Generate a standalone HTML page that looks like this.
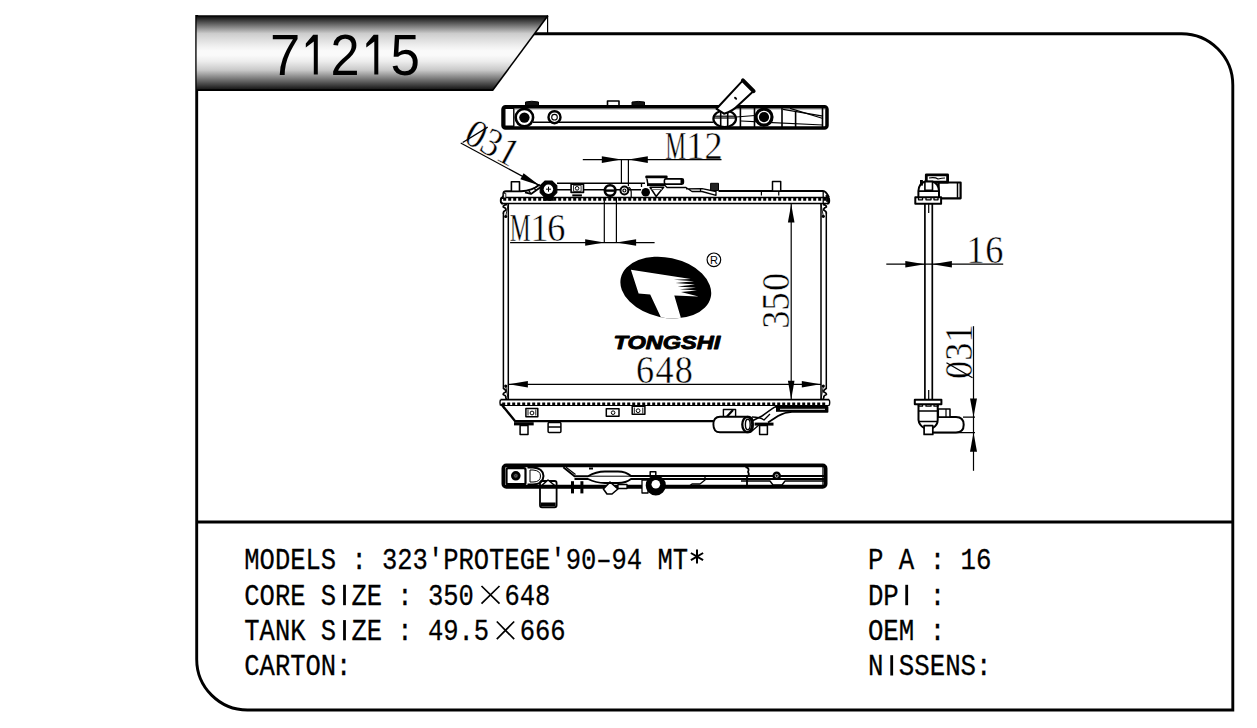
<!DOCTYPE html>
<html><head><meta charset="utf-8">
<style>
html,body{margin:0;padding:0;background:#fff;}
body{width:1257px;height:728px;overflow:hidden;position:relative;}
svg{position:absolute;left:0;top:0;display:block;}
.mono{font-family:"Liberation Mono",monospace;font-size:25.75px;fill:#000;}
.mono text{stroke:#000;stroke-width:0.25px;}
.serif{font-family:"Liberation Serif",serif;fill:#000;}
.serif text{stroke:#fff;stroke-width:0.45px;}
text{stroke:none;}
</style></head>
<body>
<svg width="1257" height="728" viewBox="0 0 1257 728">
<defs>
<linearGradient id="hg" x1="0" y1="0" x2="0" y2="1">
<stop offset="0" stop-color="#000"/>
<stop offset="0.012" stop-color="#101010"/>
<stop offset="0.24" stop-color="#cccccc"/>
<stop offset="0.32" stop-color="#dedede"/>
<stop offset="0.41" stop-color="#f0f0f0"/>
<stop offset="0.47" stop-color="#fafafa"/>
<stop offset="0.53" stop-color="#fafafa"/>
<stop offset="0.61" stop-color="#ededed"/>
<stop offset="0.68" stop-color="#d8d8d8"/>
<stop offset="0.73" stop-color="#c8c8c8"/>
<stop offset="0.985" stop-color="#181818"/>
<stop offset="1" stop-color="#000"/>
</linearGradient>
</defs>
<!-- frame -->
<g fill="none" stroke="#000" stroke-width="2.9">
<path d="M533,33.7 H1181.5 A51.3,51.3 0 0 1 1232.8,85 V710 H247.5 A50.8,50.8 0 0 1 196.7,659.2 V15"/>
<line x1="196.7" y1="522" x2="1232.8" y2="522"/>
</g>
<!-- header -->
<polygon points="196.6,15.6 548,15.6 492.5,90.4 196.6,90.4" fill="url(#hg)"/>
<line x1="492.5" y1="90.4" x2="548" y2="15.6" stroke="#000" stroke-width="1.6"/>
<line x1="196" y1="90.2" x2="493" y2="90.2" stroke="#000" stroke-width="1.8"/>
<line x1="196" y1="16" x2="548" y2="16" stroke="#000" stroke-width="1.2"/>
<line x1="547.6" y1="16" x2="547.6" y2="33" stroke="#000" stroke-width="1.2"/>
<g font-family="Liberation Sans" font-size="54.5" fill="#000">
<text transform="translate(270,74.5) scale(1,1.056)">7</text>
<text transform="translate(330.4,74.5) scale(0.96,1.056)">2</text>
<text transform="translate(390.6,74.5) scale(0.97,1.056)">5</text>
</g>
<polygon fill="#000" points="317.8,34.8 317.8,74.5 313.8,74.5 313.8,41.5 305.8,47.6 305.8,43.4 313.2,34.8"/>
<polygon fill="#000" points="378.3,34.8 378.3,74.5 374.3,74.5 374.3,41.5 366.3,47.6 366.3,43.4 373.7,34.8"/>

<!-- info text -->
<g class="mono">
<text font-size="25.5" transform="translate(244.3,569.3) scale(1,1.17)">MODELS : 323'PROTEGE'90–94 MT</text>
<text font-size="25.5" transform="translate(244.3,605) scale(1,1.17)">CORE S&#160;ZE : 350&#160;&#160;648</text>
<text font-size="25.5" transform="translate(244.3,640) scale(1,1.17)">TANK S&#160;ZE : 49.5&#160;&#160;666</text>
<text font-size="25.5" transform="translate(244.3,675.3) scale(1,1.17)">CARTON:</text>
<text transform="translate(867.9,569.3) scale(1,1.17)">P A : 16</text>
<text transform="translate(867.9,605) scale(1,1.17)">DP&#160; :</text>
<text transform="translate(867.9,640) scale(1,1.17)">OEM :</text>
<text transform="translate(867.9,675.3) scale(1,1.17)">N&#160;SSENS:</text>
</g>

<g stroke="#000" stroke-width="1.7" fill="none">
<path d="M481.5,586 L499.5,603.6 M499.5,586 L481.5,603.6"/>
<path d="M496.8,621.5 L514.2,639.2 M514.2,621.5 L496.8,639.2"/>
</g>
<path d="M697,549.5 V563.6 M690.9,553 L703.1,560.1 M703.1,553 L690.9,560.1" stroke="#000" stroke-width="2" fill="none"/>
<g fill="#000">
<rect x="343.1" y="584.8" width="2.8" height="20.4"/>
<rect x="343.1" y="620.1" width="2.8" height="20.2"/>
<rect x="905.3" y="584.8" width="2.8" height="20.4"/>
<rect x="890.3" y="655.2" width="2.8" height="20.3"/>
</g>
<!-- DRAWING -->

<g id="drawing" fill="none" stroke="#000" stroke-linejoin="round">

<!-- ===== DIMENSION TEXT ===== -->
<g class="serif" font-size="39">
<text transform="translate(665.2,158.70) scale(0.6,1.03)">M</text>
<text transform="translate(686.20,158.70) scale(0.93,1.03)">1</text>
<text transform="translate(704.60,158.70) scale(0.93,1.03)">2</text>
<text transform="translate(509.8,241.30) scale(0.6,1.03)">M</text>
<text transform="translate(530.40,241.30) scale(0.93,1.03)">1</text>
<text transform="translate(547.30,241.30) scale(0.93,1.03)">6</text>
<text transform="translate(636.10,382.70) scale(0.93,1.03)">6</text>
<text transform="translate(655.50,382.70) scale(0.93,1.03)">4</text>
<text transform="translate(674.80,382.70) scale(0.93,1.03)">8</text>
<text transform="translate(966.40,263.00) scale(0.93,1.03)">1</text>
<text transform="translate(985.30,263.00) scale(0.93,1.03)">6</text>
<text transform="translate(788.8,328.7) rotate(-90) scale(0.93,1.03)">3</text>
<text transform="translate(788.8,310.4) rotate(-90) scale(0.93,1.03)">5</text>
<text transform="translate(788.8,290.9) rotate(-90) scale(0.93,1.03)">0</text>
<text transform="translate(971.6,379.1) rotate(-90) scale(0.93,1.03)">0</text>
<text transform="translate(971.6,360.7) rotate(-90) scale(0.93,1.03)">3</text>
<text transform="translate(971.6,342.6) rotate(-90) scale(0.93,1.03)">1</text>
<line x1="972.5" y1="377.7" x2="946.5" y2="362.8" stroke="#000" stroke-width="1.3"/>
<g transform="translate(460.7,143.05) rotate(28.2)">
<text transform="translate(0.6,-2) scale(0.93,1.03)">0</text>
<text transform="translate(18.3,-2) scale(0.93,1.03)">3</text>
<text transform="translate(37.3,-2) scale(0.93,1.03)">1</text>
<line x1="1.5" y1="-1.4" x2="16.3" y2="-26.8" stroke="#000" stroke-width="1.3"/>
</g>
</g>

<!-- ===== TOP TANK VIEW ===== -->
<path d="M525.5,107 V102 Q531.5,100.5 538.5,102 V107 Z" fill="#111" stroke-width="1"/>
<rect x="607.5" y="101" width="11.5" height="6" stroke-width="1.6" fill="#fff"/>
<path d="M632,107 V102 Q638,100.8 644.5,102 V107 Z" fill="#111" stroke-width="1"/>
<rect x="503" y="106.7" width="324" height="21.3" rx="2.5" stroke-width="3.5"/>
<rect x="504.8" y="108.4" width="9" height="17.9" stroke-width="1.4"/>
<line x1="533" y1="122.2" x2="713.5" y2="122.2" stroke-width="1.6"/>
<line x1="514" y1="108.9" x2="826" y2="108.9" stroke-width="0.8" stroke="#555"/>
<circle cx="524.4" cy="117.6" r="8.7" stroke-width="2.6" fill="#fff"/>
<circle cx="524.4" cy="117.6" r="5.2" fill="#000" stroke="none"/>
<circle cx="554.5" cy="117.2" r="6" stroke-width="2.4" fill="#fff"/>
<circle cx="554.5" cy="117.2" r="2.8" stroke-width="1.1"/>
<g stroke-width="1.6">
<line x1="720.7" y1="110.5" x2="720.7" y2="127"/>
<line x1="727.7" y1="110.5" x2="727.7" y2="127"/>
<line x1="740.4" y1="108" x2="740.4" y2="127"/>
<line x1="754.5" y1="108" x2="754.5" y2="127"/>
<line x1="782" y1="108" x2="782" y2="127"/>
<line x1="795.6" y1="111.5" x2="795.6" y2="127"/>
<line x1="822.5" y1="108" x2="822.5" y2="127"/>
</g>
<g stroke-width="1.2">
<line x1="713.5" y1="116.2" x2="736" y2="116.2"/>
<line x1="713.5" y1="118" x2="736" y2="118"/>
<line x1="736" y1="117" x2="755" y2="115.5"/>
<line x1="741" y1="121" x2="823" y2="125"/>
<line x1="783" y1="109.4" x2="823" y2="116.2"/>
<line x1="790" y1="108.4" x2="823" y2="118.5"/>
</g>
<ellipse cx="724.7" cy="118.7" rx="11.3" ry="8.3" stroke-width="2.2"/>
<circle cx="764" cy="117.1" r="8" stroke-width="3.2" fill="#fff"/>
<circle cx="764" cy="117.1" r="5.1" fill="#000" stroke="none"/>
<path d="M716.5,108.8 L742.9,80.4 L753.6,91.1 L738,105.5 Q733,111 724,113.7 Z" fill="#fff" stroke-width="2"/>
<line x1="742.9" y1="80.4" x2="753.6" y2="91.1" stroke-width="4" stroke-linecap="round"/>
<ellipse cx="735.6" cy="98.2" rx="1.8" ry="1.1" transform="rotate(45 735.6 98.2)" fill="#000" stroke="none"/>

<!-- ===== FRONT VIEW ===== -->
<!-- core channels -->
<g stroke-width="1.5">
<line x1="503.4" y1="213" x2="503.4" y2="389"/>
<line x1="508.3" y1="203.5" x2="508.3" y2="399.7"/>
<line x1="821" y1="203.5" x2="821" y2="399.7"/>
<line x1="826.3" y1="213" x2="826.3" y2="389"/>
</g>
<g stroke-width="1.7">
<path d="M507,204.3 Q503,205 503.2,207 Q506.5,208.3 505.8,210.2 Q503,211 503.4,213.5"/>
<path d="M503.4,388.5 Q506.5,390 505.8,392 Q503,393 503.2,394.5 Q506.5,396 505.8,397.5 L506.5,399.7"/>
<path d="M822.8,204.3 Q826.6,205 826.4,207 Q823.2,208.3 823.8,210.2 Q826.6,211 826.3,213.5"/>
<path d="M826.3,388.5 Q823.2,390 823.8,392 Q826.6,393 826.4,394.5 Q823.2,396 823.8,397.5 L823,399.7"/>
</g>
<path d="M505.7,216.5 L508.3,204 M505.7,386 L508.3,399.5 M823.3,216.3 L821,204 M823.3,386 L821,399.5" stroke-width="0.9"/>
<circle cx="505.7" cy="216.5" r="1.6" fill="#000" stroke="none"/>
<circle cx="505.7" cy="386.1" r="1.6" fill="#000" stroke="none"/>
<circle cx="823.3" cy="216.3" r="1.6" fill="#000" stroke="none"/>
<circle cx="823.3" cy="386.1" r="1.6" fill="#000" stroke="none"/>
<!-- top header strip -->
<path d="M501,203.5 H829.2 M501.5,197.5 H828.8" stroke-width="1.7"/>
<path d="M503,197.5 Q500.8,197.5 500.8,200 V201.3 Q500.8,203.5 503,203.5 M827,197.5 Q829.2,197.5 829.2,200 V201.3 Q829.2,203.5 827,203.5" stroke-width="1.9"/>
<path d="M503.2,197.5h3.0v3.3h-3.0zM508.2,197.5h3.0v3.3h-3.0zM513.2,197.5h3.0v3.3h-3.0zM518.2,197.5h3.0v3.3h-3.0zM523.2,197.5h3.0v3.3h-3.0zM528.2,197.5h3.0v3.3h-3.0zM533.2,197.5h3.0v3.3h-3.0zM538.2,197.5h3.0v3.3h-3.0zM543.2,197.5h3.0v3.3h-3.0zM548.2,197.5h3.0v3.3h-3.0zM553.2,197.5h3.0v3.3h-3.0zM558.2,197.5h3.0v3.3h-3.0zM563.2,197.5h3.0v3.3h-3.0zM568.2,197.5h3.0v3.3h-3.0zM573.2,197.5h3.0v3.3h-3.0zM578.2,197.5h3.0v3.3h-3.0zM583.2,197.5h3.0v3.3h-3.0zM588.2,197.5h3.0v3.3h-3.0zM593.2,197.5h3.0v3.3h-3.0zM598.2,197.5h3.0v3.3h-3.0zM603.2,197.5h3.0v3.3h-3.0zM608.2,197.5h3.0v3.3h-3.0zM613.2,197.5h3.0v3.3h-3.0zM618.2,197.5h3.0v3.3h-3.0zM623.2,197.5h3.0v3.3h-3.0zM628.2,197.5h3.0v3.3h-3.0zM633.2,197.5h3.0v3.3h-3.0zM638.2,197.5h3.0v3.3h-3.0zM643.2,197.5h3.0v3.3h-3.0zM648.2,197.5h3.0v3.3h-3.0zM653.2,197.5h3.0v3.3h-3.0zM658.2,197.5h3.0v3.3h-3.0zM663.2,197.5h3.0v3.3h-3.0zM668.2,197.5h3.0v3.3h-3.0zM673.2,197.5h3.0v3.3h-3.0zM678.2,197.5h3.0v3.3h-3.0zM683.2,197.5h3.0v3.3h-3.0zM688.2,197.5h3.0v3.3h-3.0zM693.2,197.5h3.0v3.3h-3.0zM698.2,197.5h3.0v3.3h-3.0zM703.2,197.5h3.0v3.3h-3.0zM708.2,197.5h3.0v3.3h-3.0zM713.2,197.5h3.0v3.3h-3.0zM718.2,197.5h3.0v3.3h-3.0zM723.2,197.5h3.0v3.3h-3.0zM728.2,197.5h3.0v3.3h-3.0zM733.2,197.5h3.0v3.3h-3.0zM738.2,197.5h3.0v3.3h-3.0zM743.2,197.5h3.0v3.3h-3.0zM748.2,197.5h3.0v3.3h-3.0zM753.2,197.5h3.0v3.3h-3.0zM758.2,197.5h3.0v3.3h-3.0zM763.2,197.5h3.0v3.3h-3.0zM768.2,197.5h3.0v3.3h-3.0zM773.2,197.5h3.0v3.3h-3.0zM778.2,197.5h3.0v3.3h-3.0zM783.2,197.5h3.0v3.3h-3.0zM788.2,197.5h3.0v3.3h-3.0zM793.2,197.5h3.0v3.3h-3.0zM798.2,197.5h3.0v3.3h-3.0zM803.2,197.5h3.0v3.3h-3.0zM808.2,197.5h3.0v3.3h-3.0zM813.2,197.5h3.0v3.3h-3.0zM818.2,197.5h3.0v3.3h-3.0zM823.2,197.5h3.0v3.3h-3.0z" fill="#000" stroke="none"/>
<!-- top tank front -->
<path d="M503.4,197.5 V193.5 Q503.6,191.2 506,191.2 H521 Q532,191 539.7,184.5" stroke-width="2"/>
<path d="M501.2,198.5 L503.4,195.2 V198.5 Z" fill="#000" stroke-width="1"/>
<rect x="503.6" y="193.4" width="2.2" height="4.5" fill="#fff" stroke-width="0.8"/>
<rect x="511.4" y="181.7" width="8.1" height="9.6" stroke-width="1.6" fill="#fff"/>
<path d="M525,192.3 Q528,193.2 531,193.9 L540.5,187.3" stroke-width="1.8"/>
<path d="M531,193.9 L528.8,190.6 M536,190.6 L533.8,187.6" stroke-width="1.3"/>
<path d="M557,183.3 H645 M557,189.8 H641" stroke-width="1.5"/>
<rect x="543.4" y="196.3" width="10.1" height="4.5" fill="#000" stroke="none"/>
<polygon points="545.2,181 551.8,181 556.8,185.8 556.8,192.6 551.8,197.5 545.2,197.5 540.2,192.6 540.2,185.8" fill="#000" stroke-width="1.2"/>
<circle cx="548.4" cy="189.2" r="4.7" fill="#fff" stroke="none"/>
<path d="M546,189.2 h5 M548.5,186.7 v5" stroke-width="1"/>
<rect x="571.1" y="184.1" width="12.4" height="8.3" stroke-width="1.6" fill="#fff"/>
<rect x="573.5" y="185.3" width="7.6" height="6" stroke-width="0.8"/>
<circle cx="577.1" cy="188.3" r="1.8" stroke-width="1"/>
<rect x="572.3" y="194.4" width="9.6" height="2" fill="#000" stroke="none"/>
<circle cx="610.1" cy="190.5" r="5.3" stroke-width="2.6" fill="#fff"/>
<rect x="606" y="189.4" width="8.2" height="2.4" fill="#000" stroke="none"/>
<circle cx="624.4" cy="190.5" r="3.9" stroke-width="2" fill="#fff"/>
<circle cx="624.4" cy="190.5" r="1.5" stroke-width="1.2"/>
<path d="M628.5,187 Q631.2,188.5 631.2,192 V197" stroke-width="1.2"/>
<circle cx="645.7" cy="192.3" r="4.3" fill="#000" stroke="none"/>
<!-- filler -->
<path d="M641.5,187 V183.3" stroke-width="1.3"/>
<rect x="645.3" y="175.6" width="22.3" height="3" fill="#000" stroke="none" rx="1"/>
<path d="M646.9,178.5 L647.8,184 H665 L666,178.5" stroke-width="1.5" fill="#fff"/>
<path d="M647,185 H665" stroke-width="2.2"/>
<path d="M650.1,187.3 H663.6 L656.1,196.4 Z" stroke-width="1.6" fill="#fff"/>
<line x1="651.5" y1="189.5" x2="662" y2="189.5" stroke="#777" stroke-width="1.1"/>
<rect x="664.4" y="178.9" width="19" height="5.2" rx="1.5" stroke-width="1.6" fill="#fff"/>
<rect x="680.5" y="179" width="3" height="5" fill="#000" stroke="none"/>
<path d="M664,184.5 L667,187.5 H686 L692,191.5 H702 L716,195.3 V191 M686,188.9 L702,188.6 L716,191.5 M700.5,188.6 V192" stroke-width="1.3"/>
<rect x="710.6" y="183.3" width="7.9" height="7.2" fill="#222" stroke="#000" stroke-width="1"/>
<path d="M718.5,191 H823 Q826,191 829,197.5" stroke-width="1.8"/>
<path d="M823.2,191.5 V203" stroke-width="1.3"/>
<path d="M826,195 L829,198.5 V201.5 L826.5,201.5 Z" fill="#000" stroke-width="0.8"/>
<rect x="772.5" y="181.5" width="8.2" height="9.5" stroke-width="1.5" fill="#fff"/>
<path d="M761.4,191.6 V195.5 M778.75,191.6 V195.5" stroke-width="1.2"/>
<!-- bottom header strip -->
<path d="M500.5,399.7 H829.2" stroke-width="1.7"/>
<path d="M500.5,405.5 H829.2" stroke-width="1.2"/>
<path d="M500.5,399.7 Q499.5,402.5 500.5,405.5 M829.2,399.7 Q830.2,402.5 829.2,405.5" stroke-width="1.4"/>
<path d="M502.2,402.6h3.0v2.9h-3.0zM507.2,402.6h3.0v2.9h-3.0zM512.2,402.6h3.0v2.9h-3.0zM517.2,402.6h3.0v2.9h-3.0zM522.2,402.6h3.0v2.9h-3.0zM527.2,402.6h3.0v2.9h-3.0zM532.2,402.6h3.0v2.9h-3.0zM537.2,402.6h3.0v2.9h-3.0zM542.2,402.6h3.0v2.9h-3.0zM547.2,402.6h3.0v2.9h-3.0zM552.2,402.6h3.0v2.9h-3.0zM557.2,402.6h3.0v2.9h-3.0zM562.2,402.6h3.0v2.9h-3.0zM567.2,402.6h3.0v2.9h-3.0zM572.2,402.6h3.0v2.9h-3.0zM577.2,402.6h3.0v2.9h-3.0zM582.2,402.6h3.0v2.9h-3.0zM587.2,402.6h3.0v2.9h-3.0zM592.2,402.6h3.0v2.9h-3.0zM597.2,402.6h3.0v2.9h-3.0zM602.2,402.6h3.0v2.9h-3.0zM607.2,402.6h3.0v2.9h-3.0zM612.2,402.6h3.0v2.9h-3.0zM617.2,402.6h3.0v2.9h-3.0zM622.2,402.6h3.0v2.9h-3.0zM627.2,402.6h3.0v2.9h-3.0zM632.2,402.6h3.0v2.9h-3.0zM637.2,402.6h3.0v2.9h-3.0zM642.2,402.6h3.0v2.9h-3.0zM647.2,402.6h3.0v2.9h-3.0zM652.2,402.6h3.0v2.9h-3.0zM657.2,402.6h3.0v2.9h-3.0zM662.2,402.6h3.0v2.9h-3.0zM667.2,402.6h3.0v2.9h-3.0zM672.2,402.6h3.0v2.9h-3.0zM677.2,402.6h3.0v2.9h-3.0zM682.2,402.6h3.0v2.9h-3.0zM687.2,402.6h3.0v2.9h-3.0zM692.2,402.6h3.0v2.9h-3.0zM697.2,402.6h3.0v2.9h-3.0zM702.2,402.6h3.0v2.9h-3.0zM707.2,402.6h3.0v2.9h-3.0zM712.2,402.6h3.0v2.9h-3.0zM717.2,402.6h3.0v2.9h-3.0zM722.2,402.6h3.0v2.9h-3.0zM727.2,402.6h3.0v2.9h-3.0zM732.2,402.6h3.0v2.9h-3.0zM737.2,402.6h3.0v2.9h-3.0zM742.2,402.6h3.0v2.9h-3.0zM747.2,402.6h3.0v2.9h-3.0zM752.2,402.6h3.0v2.9h-3.0zM757.2,402.6h3.0v2.9h-3.0zM762.2,402.6h3.0v2.9h-3.0zM767.2,402.6h3.0v2.9h-3.0zM772.2,402.6h3.0v2.9h-3.0zM777.2,402.6h3.0v2.9h-3.0zM782.2,402.6h3.0v2.9h-3.0zM787.2,402.6h3.0v2.9h-3.0zM792.2,402.6h3.0v2.9h-3.0zM797.2,402.6h3.0v2.9h-3.0zM802.2,402.6h3.0v2.9h-3.0zM807.2,402.6h3.0v2.9h-3.0zM812.2,402.6h3.0v2.9h-3.0zM817.2,402.6h3.0v2.9h-3.0zM822.2,402.6h3.0v2.9h-3.0z" fill="#000" stroke="none"/>
<!-- bottom tank front -->
<path d="M501.2,404 L515.2,421.2 H713.4" stroke-width="2.3"/>
<path d="M502,405.5 L504.5,409" stroke-width="1.2"/>
<rect x="525.9" y="408.5" width="11.9" height="8.2" stroke-width="1.5" fill="#fff"/>
<path d="M528,409.5 v6 M535.8,409.5 v6" stroke-width="0.9"/>
<circle cx="532" cy="413" r="1.9" stroke-width="1"/>
<rect x="606.3" y="408.7" width="12.7" height="7.6" stroke-width="1.5" fill="#fff"/>
<circle cx="613.1" cy="412.7" r="1.8" stroke-width="1"/>
<rect x="632.2" y="406.3" width="12.7" height="8" stroke-width="1.5" fill="#fff"/>
<path d="M634.3,407.5 v6 M642.8,407.5 v6" stroke-width="0.9"/>
<circle cx="638.1" cy="410.7" r="1.9" stroke-width="1"/>
<rect x="514" y="422.2" width="19.7" height="3.2" fill="#000" stroke="none"/>
<rect x="520.1" y="425.4" width="7.9" height="9" stroke-width="1.5" fill="#fff"/>
<rect x="548.1" y="422.5" width="12.8" height="9.9" rx="1" stroke-width="1.5" fill="#fff"/>
<path d="M548.1,427 h12.8" stroke-width="1.5"/>
<!-- outlet -->
<rect x="723.4" y="409.5" width="12.2" height="7.2" stroke-width="1.4" fill="#fff"/>
<path d="M727,416.5 L733,410" stroke-width="2.2"/>
<path d="M775,406.8 H827.5 V411.8 H792 Q785,412 778,416 L768,422.6" stroke-width="1.8" fill="#fff"/>
<path d="M775,406.8 Q770,410 762,416 L752,421" stroke-width="1.6"/>
<rect x="776" y="406.8" width="51.5" height="5" fill="#000" stroke="none"/>
<path d="M780,409.3 H825" stroke="#fff" stroke-width="0.9"/>
<path d="M752,417 Q760,417 764,420 L770,414 M752,431 L760,424 H768" stroke-width="1.3"/>
<path d="M720,416.7 H749 Q753,417 753,424.5 Q753,432.3 749,432.3 H720 Q713.4,432.3 713.4,424.5 Q713.4,416.7 720,416.7 Z" stroke-width="1.9" fill="#fff"/>
<ellipse cx="747.3" cy="424.5" rx="5" ry="7.6" stroke-width="2.3" fill="#fff"/>
<ellipse cx="747.8" cy="424.5" rx="2.4" ry="5.2" stroke-width="1.4"/>
<rect x="754.6" y="422.6" width="18.9" height="3" fill="#000" stroke="none"/>
<rect x="759.6" y="425.6" width="7.8" height="8.9" stroke-width="1.5" fill="#fff"/>
<!-- 648 / 350 dims -->
<g stroke-width="1.2">
<line x1="508.8" y1="384.3" x2="821" y2="384.3"/>
<line x1="791.2" y1="204" x2="791.2" y2="399.7"/>
</g>
<polygon points="508.8,384.3 527.9,381 527.9,387.6" fill="#000" stroke="none"/>
<polygon points="820.4,384.3 801.8,381 801.8,387.6" fill="#000" stroke="none"/>
<polygon points="791.2,204.2 787.9,222.6 794.5,222.6" fill="#000" stroke="none"/>
<polygon points="791.2,399.5 787.9,380.8 794.5,380.8" fill="#000" stroke="none"/>


<!-- ===== LOGO ===== -->
<clipPath id="lc"><ellipse cx="665.8" cy="287.55" rx="46" ry="30" transform="rotate(12 665.8 287.55)"/></clipPath>
<ellipse cx="665.8" cy="287.55" rx="46" ry="30" transform="rotate(12 665.8 287.55)" fill="#000" stroke="none"/>
<polygon clip-path="url(#lc)" fill="#fff" stroke="none" points="630.9,269.7 690.8,279.0 673.8,279.8 694,281.2 675.5,283 695,284.6 677.6,286.4 696,287.8 679.8,289.2 697,290.5 681,292 698.5,296.4 674.3,295.6 683,325 664.5,325 650.2,294.5 638.6,293.4"/>
<circle cx="713.9" cy="259.8" r="6.8" stroke-width="1.2" fill="#fff"/>
<text x="709.9" y="264" font-family="Liberation Sans" font-size="11" fill="#000">R</text>
<text transform="translate(613.5,348.9) scale(1.25,1)" font-family="Liberation Sans" font-weight="bold" font-style="italic" font-size="18.85" fill="#000" stroke="#000" stroke-width="0.9" style="stroke:#000">TONGSHI</text>

<!-- ===== SIDE VIEW ===== -->
<g stroke-width="1.7">
<line x1="924.9" y1="203.8" x2="924.9" y2="399.8"/>
<line x1="932.3" y1="203.8" x2="932.3" y2="399.8"/>
</g>
<path d="M928.7,204 V213 M928.7,390 V399" stroke-width="1.2"/>
<!-- top -->
<rect x="938.6" y="182.5" width="22" height="15.8" stroke-width="2.2" fill="#fff"/>
<path d="M957.5,183 V197.8" stroke-width="1.5"/>
<rect x="926.3" y="174.8" width="21.3" height="7.4" stroke-width="2.8" fill="#fff"/>
<path d="M929,178 Q935,177 938,179 Q942,178 945,178" stroke-width="1.2"/>
<path d="M918.4,197.3 V191 Q918.8,183.5 925,181.5 H932.5 Q938.6,183.5 939,191 V197.3" stroke-width="2" fill="#fff"/>
<path d="M924.9,181.5 V190.4 H932.5 V181.5 M918.4,191.1 H939" stroke-width="1.6"/>
<rect x="920" y="180" width="2.9" height="5.6" fill="#000" stroke="none"/>
<rect x="915.3" y="197.3" width="25.8" height="6.5" stroke-width="2" fill="#fff"/>
<path d="M918.5,197.3 v2.5 h4 v-2.5 M926,197.3 v2.5 h5 v-2.5 M934,197.3 v2.5 h4 v-2.5" stroke-width="1.3"/>
<!-- 16 dim -->
<line x1="886.3" y1="264.2" x2="1003.2" y2="264.2" stroke-width="1.2"/>
<polygon points="924.9,264.2 905.3,261 905.3,267.4" fill="#000" stroke="none"/>
<polygon points="932.3,264.2 951.9,261 951.9,267.4" fill="#000" stroke="none"/>
<!-- bottom -->
<path d="M963,417.1 H975 M930,432.6 H975" stroke-width="1.2"/>
<path d="M938,417.1 H956 Q963.7,417.1 963.7,424.8 Q963.7,432.5 956,432.5 H932" stroke-width="2" fill="#fff"/>
<rect x="938.3" y="409" width="11.7" height="8.1" stroke-width="1.5" fill="#fff"/>
<path d="M946,409 v8" stroke-width="1.2"/>
<path d="M918.5,404 V420 Q919,425 924.1,428 H932.8 Q937.7,425 937.7,420 V404" stroke-width="2" fill="#fff"/>
<path d="M918.5,411 H937.7 M918.5,421.5 H937.7" stroke-width="1.5"/>
<rect x="924.1" y="425.7" width="8.7" height="8.7" stroke-width="1.7" fill="#fff"/>
<rect x="914.8" y="399.8" width="26.6" height="4.4" stroke-width="2" fill="#fff"/>
<path d="M918.5,404.2 v2 h4 v-2 M926,404.2 v2 h5 v-2 M934,404.2 v2 h4 v-2" stroke-width="1.3"/>
<!-- Ø31 side dim -->
<line x1="973.5" y1="326.2" x2="973.5" y2="470.8" stroke-width="1.2"/>
<polygon points="973.5,417.1 970,398.5 977,398.5" fill="#000" stroke="none"/>
<polygon points="973.5,432.6 970,451.8 977,451.8" fill="#000" stroke="none"/>

<!-- ===== BOTTOM TANK VIEW ===== -->
<rect x="540" y="481" width="16.6" height="26.3" rx="2" stroke-width="1.8" fill="#fff"/>
<rect x="541" y="502.5" width="14.6" height="4" fill="#000" stroke="none"/>
<rect x="546" y="486" width="4" height="2" fill="#000" stroke="none"/>
<path d="M540,487 L548,480 L556.6,487" stroke-width="1.5" fill="#fff"/>
<rect x="503.3" y="465.4" width="322.4" height="21.5" rx="3" stroke-width="3.6" fill="none"/>
<rect x="506.5" y="468.2" width="19" height="16" rx="1.5" stroke-width="2.2"/>
<circle cx="515.8" cy="475.8" r="3.6" stroke-width="2.4" fill="#222"/>
<circle cx="515.8" cy="475.8" r="1.2" stroke="#888" stroke-width="0.6"/>
<path d="M527.5,467.5 H533 Q543,468 543.5,476 Q543,484.5 533,484.5 H527.5" stroke-width="2"/>
<path d="M530,470 H533 Q540.5,470.5 540.5,476 Q540.5,482 533,482 H530 Z" stroke-width="1"/>
<path d="M563.3,467.2 L574.5,476.2 H588 Q596,471.5 605,471.5 H618 Q626,471.5 631,476 H826 M574.5,479 H588 Q596,483 605,483 H618 Q626,483 631,479 H826" stroke-width="1.9"/>
<path d="M566,467.2 L575.5,474.5" stroke-width="1.2"/>
<path d="M588,476.2 H631" stroke-width="1"/>
<path d="M503,485.4 H826" stroke-width="1.5"/>
<rect x="589" y="467.5" width="4" height="2" fill="#000" stroke="none"/>
<rect x="571" y="481.2" width="3" height="12.2" fill="#000" stroke="none"/>
<rect x="580.4" y="481.2" width="3" height="12.2" fill="#000" stroke="none"/>
<path d="M574,488 H580.4" stroke-width="1.5"/>
<path d="M603.4,489 L610,482 L617.9,489 L612,494 H607 Z" stroke-width="1.6" fill="#fff"/>
<rect x="618" y="484.5" width="9" height="4" stroke-width="1.3" fill="#fff"/>
<rect x="650.2" y="471.7" width="5.6" height="4" stroke-width="1.5" fill="#fff"/>
<rect x="642" y="480" width="6" height="13" stroke-width="1.3" fill="#fff"/>
<circle cx="655.8" cy="485.4" r="7.8" stroke-width="4.6" fill="#000"/>
<circle cx="655.8" cy="484.2" r="4.3" fill="#fff" stroke="none"/>
<path d="M688,487 L692,484 H700 L705,480 V477" stroke-width="1.3"/>
<path d="M745.5,467 Q750,468 748,472 Q750,475 747,477 V485" stroke-width="1.8"/>
<path d="M741,481 H770 L773,485 H782 L785,481 H826" stroke-width="1.4"/>
<circle cx="776.7" cy="475.8" r="4.3" fill="#000" stroke="none"/>
<circle cx="776.7" cy="475.8" r="1.5" stroke="#fff" stroke-width="0.7"/>
<path d="M823,467 V486" stroke-width="1.3"/>

<!-- ===== M12 DIMENSION ===== -->
<g stroke-width="1.2">
<line x1="582.8" y1="159.6" x2="721.5" y2="159.6"/>
<line x1="621.4" y1="159.6" x2="621.4" y2="184"/>
<line x1="628.4" y1="159.6" x2="628.4" y2="186"/>
</g>
<polygon points="601.8,156.3 621.4,159.6 601.8,162.9" fill="#000" stroke="none"/>
<polygon points="647.8,156.3 628.4,159.6 647.8,162.9" fill="#000" stroke="none"/>

<!-- ===== M16 DIMENSION ===== -->
<g stroke-width="1.2">
<line x1="510.1" y1="242.55" x2="654.6" y2="242.55"/>
<line x1="604.3" y1="197" x2="604.3" y2="242.55"/>
<line x1="616.4" y1="197" x2="616.4" y2="242.55"/>
</g>
<polygon points="585.2,239.3 604.3,242.55 585.2,245.8" fill="#000" stroke="none"/>
<polygon points="636.1,239.3 616.4,242.55 636.1,245.8" fill="#000" stroke="none"/>

<!-- ===== Ø31 LEADER ===== -->
<line x1="460.7" y1="143.05" x2="539.7" y2="185.6" stroke-width="1.2"/>
<polygon points="539.7,185.6 520.4,179.2 523.6,173.3" fill="#000" stroke="none"/>
</g>

</svg>
</body></html>
